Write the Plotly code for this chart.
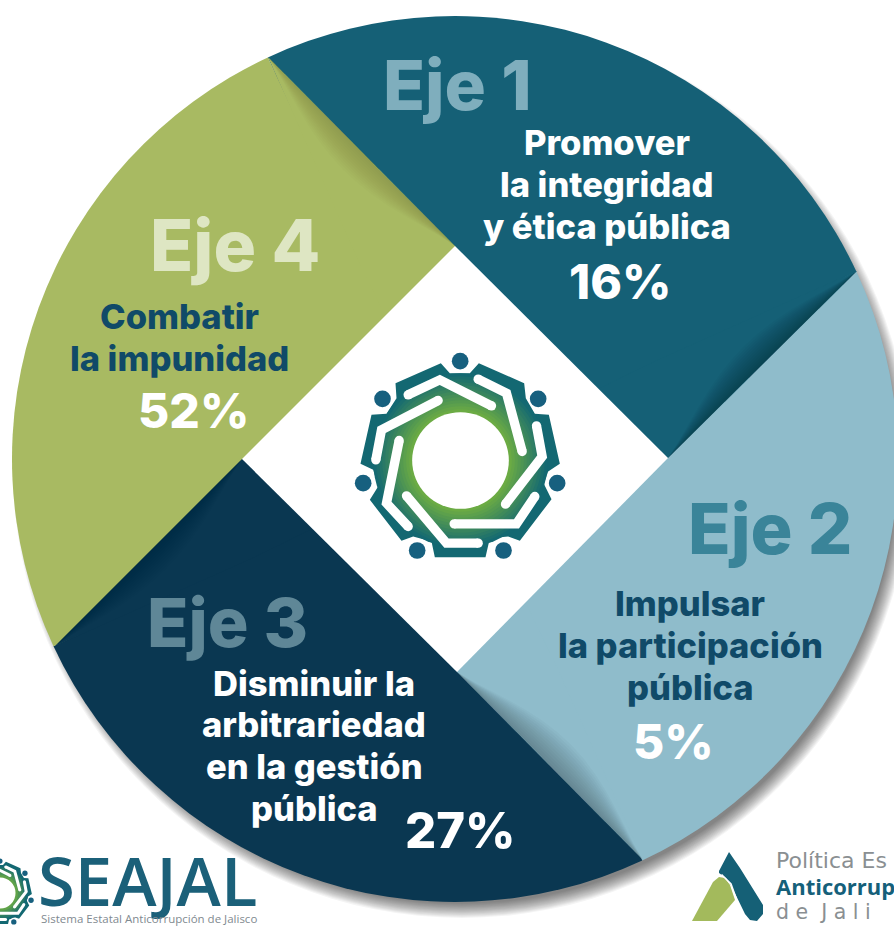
import math
import plotly.graph_objects as go

W, H = 898, 926
ML, MR, MT, MB = 12, 0, 16, 24
CX, CY = 455, 459

axes = ["Eje 1", "Eje 2", "Eje 3", "Eje 4"]
themes = ["Promover la integridad y ética pública", "Impulsar la participación pública",
          "Disminuir la arbitrariedad en la gestión pública", "Combatir la impunidad"]
percent_labels = [16, 5, 27, 52]
sector_sizes = [25, 25, 25, 25]
sector_colors = ["#156076", "#8FBCCB", "#0A3751", "#A8BA62"]

def fx(x): return (x - ML) / (W - ML - MR)
def fy(y): return 1 - (y - MT) / (H - MT - MB)

fig = go.Figure(go.Pie(
    labels=axes, values=sector_sizes, customdata=percent_labels, text=themes,
    sort=False, direction="clockwise", rotation=-25,
    marker=dict(colors=sector_colors, line=dict(width=0)),
    textinfo="none", hoverinfo="label+text", showlegend=False,
    domain=dict(x=[0, 1], y=[0, 1]),
))

shapes = []
def path(points, layer="above", **kw):
    d = "M" + " L".join(f"{fx(x):.5f},{fy(y):.5f}" for x, y in points) + " Z"
    shapes.append(dict(type="path", xref="paper", yref="paper", path=d, layer=layer, line=dict(width=0), **kw))

def circle(cx, cy, r, color, layer="above"):
    shapes.append(dict(type="circle", xref="paper", yref="paper", x0=fx(cx - r), x1=fx(cx + r),
                       y0=fy(cy + r), y1=fy(cy - r), fillcolor=color, line=dict(width=0), layer=layer))

def stroke(points, w, color):
    d = "M" + " L".join(f"{fx(x):.5f},{fy(y):.5f}" for x, y in points)
    shapes.append(dict(type="path", xref="paper", yref="paper", path=d, layer="above",
                       line=dict(width=w, color=color)))
    for p in (points[0], points[-1]):
        circle(p[0], p[1], w / 2, color)

# soft drop shadow under the disc, low and to the right
for i in range(14):
    circle(CX + 7, CY + 10, 449 - i * 1.1, "rgba(0,0,0,0.045)", layer="below")

# pinwheel edges: (point on the rim, inner corner) of each sector's clockwise side
RIM = [(857, 271), (643, 860), (55, 646), (268, 57)]
CORNER = [(668, 458), (457, 672), (242, 459), (455, 246)]
for i, (a, k) in enumerate(zip(RIM, CORNER)):
    dx, dy = a[0] - CX, a[1] - CY
    n = math.hypot(dx, dy)
    q = ((a[0] + CX) / 2 + dy / n * 4, (a[1] + CY) / 2 - dx / n * 4)
    path([a, k, (CX, CY), q], fillcolor=sector_colors[i])

# soft shading along each edge, inside the sector it belongs to
SHADE = [(0.022, 26, -1, -1), (0.022, 30, 1, -1), (0.010, 24, 1, 1), (0.012, 26, -1, 1)]
LEVELS = 12
for (a, k), (op, depth, sx, sy) in zip(zip(RIM, CORNER), SHADE):
    for level in range(1, LEVELS + 1):
        d = depth * level / LEVELS
        pts = [a]
        for j in range(1, 14):
            t = j / 14
            bump = d * math.sin(math.pi * t) ** 1.2 / math.sqrt(2)
            pts.append((a[0] + (k[0] - a[0]) * t + sx * bump, a[1] + (k[1] - a[1]) * t + sy * bump))
        pts.append(k)
        path(pts, fillcolor=f"rgba(0,0,0,{op})")

# central white square
path(CORNER, fillcolor="#ffffff")

OUTLINE = [(303,70),(330,100),(390,100),(417,70),(553,130),(558,175),(585,222),(627,225),(660,372),(625,395),
           (612,432),(635,478),(540,603),(505,590),(450,595),(437,652),(285,652),(275,605),(220,590),(185,603),
           (90,480),(115,440),(100,390),(62,372),(95,225),(140,222),(170,175),(167,130)]
CUTS = [[(205,165),(300,120),(455,198)], [(415,118),(500,160),(547,335)],
        [(590,258),(607,350),(497,493)], [(585,470),(530,552),(343,552)],
        [(415,610),(320,610),(200,468)], [(205,560),(140,490),(178,302)],
        [(108,360),(125,270),(295,182)]]
DOTS = [(361,64),(595,177),(652,430),(491,632),(232,632),(70,430),(128,177)]

def blend(a, b, t):
    return "#" + "".join(f"{round(x + (y - x) * t):02x}" for x, y in zip(a, b))

def logo(cx, cy, s, steps=14):
    def T(p): return (cx + (p[0] - 362) * s, cy + (p[1] - 362) * s)
    path([T(p) for p in OUTLINE], fillcolor="#136872")
    for i in range(steps):
        t = i / (steps - 1)
        r = (262 - (262 - 145) * t) * s
        circle(cx, cy, r, blend((0x14, 0x69, 0x72), (0x72, 0xB0, 0x40), t))
    for c in CUTS:
        stroke([T(p) for p in c], 28 * s, "#ffffff")
    circle(cx, cy, 145 * s, "#ffffff")
    for d in DOTS:
        x, y = T(d)
        circle(x, y, 25 * s, "#17607F")

logo(460.5, 460.5, 1 / 3)
logo(0, 893, 0.107, steps=6)

# Política Estatal mark
path([(729,852),(740,868),(763,905),(763,914),(757,921),(750,920),(745,914),(731,885),(726,878),(719,873),(719,871)], fillcolor="#156076")
path([(692,921),(713,882),(719,877),(725,878),(730,885),(735,900),(717,921)], fillcolor="#A3BA5C")
stroke([(722,875),(731,884),(736,898)], 1.6, "#ffffff")

annotations = []
def label(x, y, text, size, color, weight=700, family="Inter", anchor="center", **kw):
    annotations.append(dict(x=fx(x), y=fy(y), xref="paper", yref="paper", text=text, showarrow=False,
                            xanchor=anchor, yanchor="middle", align="center",
                            font=dict(family=family, size=size, color=color, weight=weight), **kw))

axis_style = [(458, 85, "#7FAEBD", 69), (770, 528, "#3A8499", 70), (227, 622, "#5F8797", 68), (235, 245, "#DEE6C3", 71)]
for name, (x, y, c, s) in zip(axes, axis_style):
    label(x, y, name, s, c, 800)

BODY = 34.5
label(607, 142, "Promover", BODY, "#ffffff", 800)
label(607, 184, "la integridad", BODY, "#ffffff", 800)
label(607, 226, "y ética pública", BODY, "#ffffff", 800)
label(620, 281, f"{percent_labels[0]}%", 48, "#ffffff", 800)

NAVY = "#104A68"
label(690, 603, "Impulsar", BODY, NAVY, 800)
label(690, 645, "la participación", BODY, NAVY, 800)
label(690, 687, "pública", BODY, NAVY, 800)
label(673, 741, f"{percent_labels[1]}%", 48, "#ffffff", 800)

label(314, 683, "Disminuir la", BODY, "#ffffff", 800)
label(314, 724, "arbitrariedad", BODY, "#ffffff", 800)
label(314, 766, "en la gestión", BODY, "#ffffff", 800)
label(314, 808, "pública", BODY, "#ffffff", 800)
label(460, 830, f"{percent_labels[2]}%", 49, "#ffffff", 800)

label(179, 317, "Combatir", BODY, NAVY, 800)
label(179, 358, "la impunidad", BODY, NAVY, 800)
label(193, 410, f"{percent_labels[3]}%", 48, "#ffffff", 800)

label(36, 880, "SEAJAL", 67, "#1B6079", 600, "Open Sans", "left")
label(39, 918, "Sistema Estatal Anticorrupción de Jalisco", 11.5, "#7F8A90", 400, "Open Sans", "left")
label(774, 860, "Política Es", 22, "#8A8F92", 400, "DejaVu Sans", "left")
label(774, 886, "Anticorrup", 22, "#15607A", 700, "Open Sans", "left")
label(774, 912, "d e  J a l i", 20.5, "#8A8F92", 400, "DejaVu Sans", "left")

fig.update_layout(width=W, height=H, margin=dict(l=ML, r=MR, t=MT, b=MB, pad=0),
                  paper_bgcolor="#ffffff", shapes=shapes, annotations=annotations)
fig.write_html("out.html", config=dict(displayModeBar=False),
               post_script="document.body.style.margin='0';document.documentElement.style.overflow='hidden';document.body.style.overflow='hidden';")
